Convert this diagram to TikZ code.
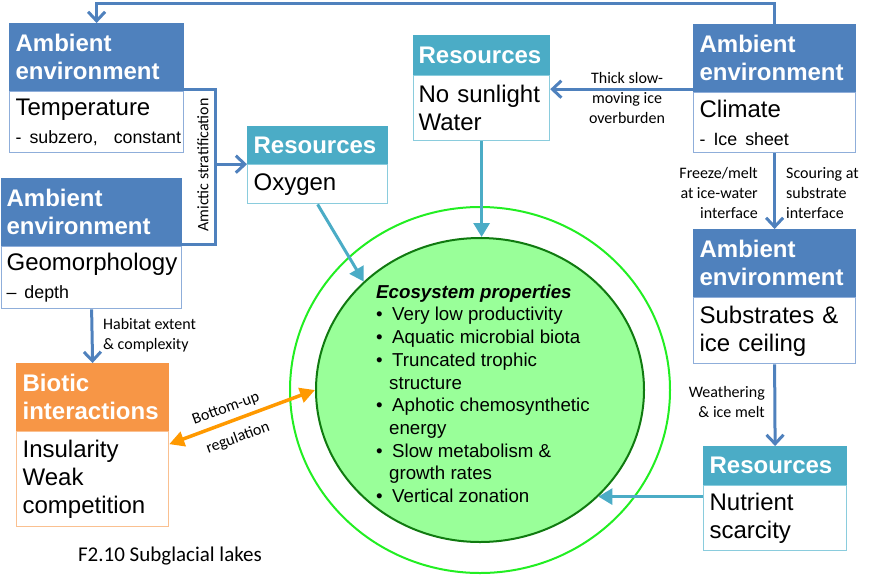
\documentclass[tikz,border=0pt]{standalone}
\usepackage{fontspec}
\setmainfont{Liberation Sans}
\newfontfamily\calfont{Carlito}
\usetikzlibrary{arrows.meta,shapes.geometric}
\definecolor{amb}{HTML}{4F81BD}
\definecolor{ambl}{HTML}{8FAEDA}
\definecolor{res}{HTML}{4BACC6}
\definecolor{resl}{HTML}{8ACCDD}
\definecolor{bio}{HTML}{F79646}
\definecolor{biol}{HTML}{FAC090}
\definecolor{orarr}{HTML}{FF9900}
\definecolor{ringg}{HTML}{22EE22}
\definecolor{darkg}{HTML}{107A10}
\definecolor{fillg}{HTML}{99FF99}
\newcommand\bul{\makebox[16pt][l]{\textbullet}}
\begin{document}
\begin{tikzpicture}[x=1pt,y=-1pt,
  hd/.style={rectangle, anchor=north west, inner xsep=6pt, inner ysep=0pt, align=left,
    text=white, font=\bfseries\fontsize{24}{28}\selectfont, line width=1.2pt},
  ahd/.style={hd, fill=amb, draw=amb},
  rhd/.style={hd, fill=res, draw=res},
  bhd/.style={hd, fill=bio, draw=bio},
  bd/.style={rectangle, anchor=north west, inner xsep=6pt, inner ysep=0pt, align=left,
    text=black, fill=white, font=\fontsize{24}{28}\selectfont, line width=1.2pt},
  abd/.style={bd, draw=ambl},
  rbd/.style={bd, draw=resl},
  bbd/.style={bd, draw=biol},
  lbl/.style={font=\calfont\fontsize{16}{20}\selectfont, inner sep=0pt},
  ambarrow/.style={draw=amb, line width=3pt, -{Straight Barb[length=9pt,width=17pt,line width=3pt]}},
  ambline/.style={draw=amb, line width=3pt},
  resarrow/.style={draw=res, line width=3pt, -{Triangle[length=14pt,width=16pt]}},
  orarrow/.style={draw=orarr, line width=3.5pt, {Triangle[length=15pt,width=15pt]}-{Triangle[length=15pt,width=15pt]}},
]
\useasboundingbox (0,0) rectangle (878,582);

% rings
\node[ellipse, draw=ringg, line width=2pt, minimum width=380pt, minimum height=366pt, inner sep=0pt] (ring) at (480,390) {};
\node[ellipse, draw=darkg, fill=fillg, line width=2pt, minimum width=328pt, minimum height=304pt, inner sep=0pt] (eco) at (480,390) {};
\node[anchor=north west, inner sep=0pt, align=left, font=\fontsize{18.7}{22.7}\selectfont] (ecot) at (376,284.5)
 {\textbf{\textit{Ecosystem properties}}\\
  \bul Very low productivity\\
  \bul Aquatic microbial biota\\
  \bul Truncated trophic\\
  \hspace*{13pt}structure\\
  \bul Aphotic chemosynthetic\\
  \hspace*{13pt}energy\\
  \bul Slow metabolism \&\\
  \hspace*{13pt}growth rates\\
  \bul Vertical zonation};

% Temperature
\node[ahd, text width=162pt, minimum height=67pt] (th) at (9,23) {Ambient\\environment};
\node[abd, text width=162pt, minimum height=61pt] (tb) at (th.south west)
 {Temperature\\\fontsize{17.8}{24}\selectfont\mbox{- subzero,\ \ constant}};
% Geomorphology
\node[ahd, text width=170pt, minimum height=67pt, inner xsep=5pt] (gh) at (1,178) {Ambient\\environment};
\node[abd, text width=170pt, minimum height=62pt, inner xsep=5pt] (gb) at (gh.south west)
 {\mbox{Geomorphology}\\\fontsize{17.8}{26}\selectfont -- depth};
% Oxygen
\node[rhd, text width=128pt, minimum height=37pt] (oh) at (247,126) {Resources};
\node[rbd, text width=128pt, minimum height=39pt] (ob) at (oh.south west) {Oxygen};
% No sunlight
\node[rhd, text width=126pt, minimum height=39pt, inner xsep=5pt] (sh) at (413,35) {\mbox{Resources}};
\node[rbd, text width=126pt, minimum height=65pt, inner xsep=5pt] (sb) at (sh.south west) {No sunlight\\Water};
% Climate
\node[ahd, text width=150pt, minimum height=67pt] (ch) at (693,24) {Ambient\\environment};
\node[abd, text width=150pt, minimum height=60pt] (cb) at (ch.south west)
 {Climate\\\fontsize{17.8}{24}\selectfont - Ice sheet};
% Substrates
\node[ahd, text width=150pt, minimum height=67pt] (subh) at (693,229) {Ambient\\environment};
\node[abd, text width=150pt, minimum height=66pt] (subb) at (subh.south west)
 {Substrates \&\\ice ceiling};
% Nutrient
\node[rhd, text width=131pt, minimum height=38pt] (nh) at (703,446) {Resources};
\node[rbd, text width=131pt, minimum height=65pt] (nb) at (nh.south west) {Nutrient\\scarcity};
% Biotic
\node[bhd, text width=140pt, minimum height=67pt] (bh) at (16,363) {Biotic\\interactions};
\node[bbd, text width=140pt, minimum height=95pt] (bb) at (bh.south west) {Insularity\\Weak\\competition};

% connectors
\coordinate (topy) at (0,3);
\draw[ambarrow] (ch.north) -- (ch.north |- topy) -| (th.north);
\draw[ambarrow] ([yshift=3pt]ch.south west) -- ([yshift=3pt]ch.south west -| sb.east);
\node[lbl, align=center] (thick) at (627,98) {Thick slow-\\moving ice\\overburden};
\draw[ambarrow] (cb.south) -- (subh.north);
\node[lbl, align=right, anchor=east] (freeze) at (758,193) {Freeze/melt\\at ice-water\\interface};
\node[lbl, align=left, anchor=west] (scour) at (786,193) {Scouring at\\substrate\\interface};
\draw[ambarrow] (subb.south) -- (nh.north);
\node[lbl, align=right, anchor=east] (weath) at (765,402) {Weathering\\\& ice melt};
\draw[resarrow] (eco.-42 -| nb.west) -- (eco.-42);
\draw[resarrow] (sb.south) -- (sb.south |- eco.north);
\draw[resarrow] (ob.south) -- (eco.137);
\coordinate (brk) at (215,163);
\draw[ambline] ([yshift=2pt]th.south east) -- ([yshift=2pt]th.south east -| brk) -- ([yshift=2pt]gh.south east -| brk) -- ([yshift=2pt]gh.south east);
\draw[ambarrow] (ob.north west -| brk) -- (ob.north west);
\node[lbl, rotate=90] (amict) at (203,165) {Amictic stratification};
\draw[ambarrow] (gb.south) -- (bh.north);
\node[lbl, align=left, anchor=west] (habit) at (103,335) {Habitat extent\\\& complexity};
\draw[orarrow] ([yshift=-13pt]bb.north east) -- (eco.west);
\node[lbl, rotate=20] (botup) at (226,409) {Bottom-up};
\node[lbl, rotate=20] (regul) at (238,438) {regulation};
\node[font=\calfont\fontsize{21}{24}\selectfont, inner sep=0pt] (cap) at (170,556) {F2.10 Subglacial lakes};
\end{tikzpicture}
\end{document}
